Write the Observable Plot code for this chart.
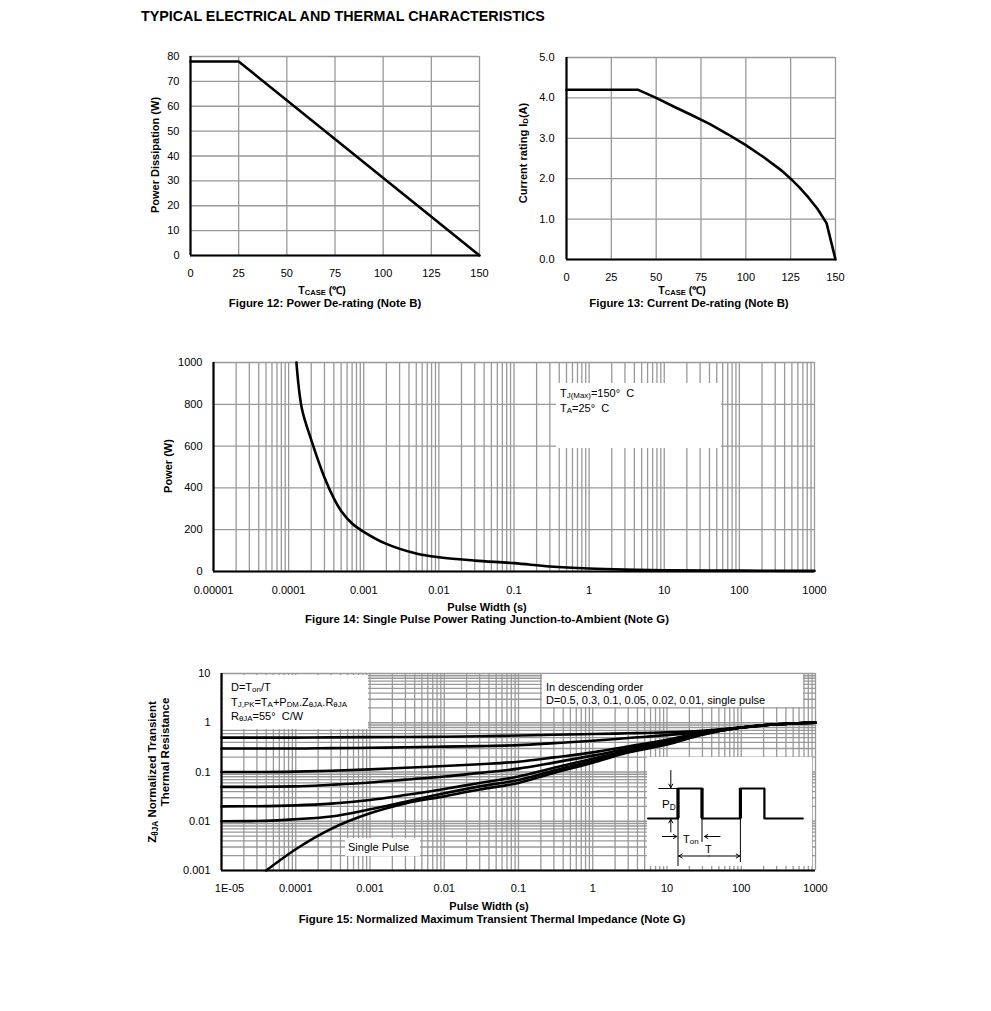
<!DOCTYPE html>
<html><head><meta charset="utf-8">
<script src="https://cdn.jsdelivr.net/npm/d3@7"></script>
<script src="https://cdn.jsdelivr.net/npm/@observablehq/plot@0.6"></script>
<style>
body{margin:0;background:#fff;}
#page{position:relative;width:991px;height:1011px;font-family:Arial,"Liberation Sans",sans-serif;color:#000;overflow:hidden;}
.abs{position:absolute;white-space:nowrap;line-height:1;}
.c{transform:translate(-50%,-50%);}
.l{transform:translate(0,-50%);}
.rot{transform:translate(-50%,-50%) rotate(-90deg);}
.b{font-weight:bold;}
sub{font-size:0.72em;vertical-align:-0.22em;line-height:0;}
.box{position:absolute;background:#fff;}
svg{display:block;}
</style></head><body><div id="page"></div>
<script>
// ---------- Figure 12 data ----------
const caseTemp12 = [0, 25, 150];
const power12 = [78, 78, 0];
const tempTicks = [0, 25, 50, 75, 100, 125, 150];
const powerTicks12 = [0, 10, 20, 30, 40, 50, 60, 70, 80];

// ---------- Figure 13 data ----------
const caseTemp13 = [0, 40, 50, 60, 70, 80, 90, 100, 110, 120, 125, 130, 135, 140, 145, 150];
const current13 = [4.2, 4.2, 4.0, 3.78, 3.57, 3.35, 3.1, 2.83, 2.53, 2.2, 2.0, 1.78, 1.53, 1.25, 0.9, 0];
const currentTicks13 = [0, 1, 2, 3, 4, 5];

// ---------- Figure 14 data ----------
const pulseWidth14 = [1.27e-4, 1.5e-4, 2e-4, 3e-4, 4e-4, 5e-4, 7e-4, 1e-3, 2e-3, 5e-3, 1e-2, 3e-2, 0.1, 0.3, 1, 3, 10, 100, 1000];
const power14 = [1000, 780, 630, 450, 350, 290, 230, 190, 132, 86, 68, 52, 40, 24, 14, 9, 6, 4, 3];
const pulseTicks14 = [1e-5, 1e-4, 1e-3, 1e-2, 0.1, 1, 10, 100, 1000];
const pulseLabels14 = ["0.00001", "0.0001", "0.001", "0.01", "0.1", "1", "10", "100", "1000"];
const powerTicks14 = [0, 200, 400, 600, 800, 1000];

// ---------- Figure 15 data ----------
const pulseWidth15 = [1e-5, 3e-5, 1e-4, 3e-4, 1e-3, 3e-3, 1e-2, 3e-2, 0.1, 0.3, 1, 3, 10, 30, 100, 300, 1000];
const z_D05  = [0.5, 0.5, 0.5, 0.505, 0.51, 0.515, 0.52, 0.533, 0.55, 0.57, 0.59, 0.61, 0.64, 0.69, 0.8, 0.93, 1.0];
const z_D03  = [0.3, 0.3, 0.3, 0.305, 0.31, 0.318, 0.327, 0.336, 0.352, 0.385, 0.43, 0.49, 0.56, 0.66, 0.8, 0.93, 1.0];
const z_D01  = [0.1, 0.1, 0.102, 0.106, 0.113, 0.122, 0.132, 0.144, 0.162, 0.198, 0.25, 0.33, 0.45, 0.63, 0.8, 0.93, 1.0];
const z_D005 = [0.05, 0.05, 0.051, 0.055, 0.061, 0.07, 0.081, 0.096, 0.117, 0.155, 0.215, 0.3, 0.42, 0.6, 0.8, 0.93, 1.0];
const z_D002 = [0.02, 0.0202, 0.021, 0.0228, 0.027, 0.034, 0.045, 0.06, 0.081, 0.122, 0.185, 0.275, 0.4, 0.59, 0.8, 0.93, 1.0];
const z_D001 = [0.01, 0.0101, 0.011, 0.0125, 0.0175, 0.025, 0.037, 0.051, 0.069, 0.107, 0.168, 0.26, 0.38, 0.58, 0.8, 0.93, 1.0];
const pulseWidthSingle = [4e-5, 1e-4, 3e-4, 1e-3, 3e-3, 1e-2, 3e-2, 0.1, 0.3, 1, 3, 10, 30, 100, 300, 1000];
const z_single = [0.001, 0.0027, 0.007, 0.0145, 0.023, 0.032, 0.044, 0.06, 0.096, 0.155, 0.25, 0.36, 0.57, 0.8, 0.93, 1.0];
const dutySeries = ["0.5", "0.3", "0.1", "0.05", "0.02", "0.01"];
const pulseTicks15 = [1e-5, 1e-4, 1e-3, 1e-2, 0.1, 1, 10, 100, 1000];
const pulseLabels15 = ["1E-05", "0.0001", "0.001", "0.01", "0.1", "1", "10", "100", "1000"];
const zTicks15 = [0.001, 0.01, 0.1, 1, 10];
const zLabels15 = ["0.001", "0.01", "0.1", "1", "10"];

// ---------- Inset waveform (schematic units: Ton = 1, T = 2.6) ----------
const waveTime  = [-1.25, 0, 0, 1, 1, 2.6, 2.6, 3.6, 3.6, 5.2];
const waveLevel = [0, 0, 1, 1, 0, 0, 1, 1, 0, 0];
const risingEdges = [0, 2.6, 1];
const markerTime = [0, 1, 2.6];
const markerBottom = [-1.6, -0.8, -1.47];

// ---------- helpers ----------
const page = document.getElementById("page");
const FONT = "Arial, 'Liberation Sans', sans-serif";
const GRID = "#999999";
const baseStyle = {fontFamily: FONT, fontSize: "11px", color: "#000", background: "transparent", overflow: "visible"};
function addPlot(svg, left, top) {
  const d = document.createElement("div");
  d.style.cssText = `position:absolute;left:${left}px;top:${top}px;`;
  d.appendChild(svg);
  page.appendChild(d);
}
function addText(html, x, y, cls, size) {
  const d = document.createElement("div");
  d.className = "abs " + cls;
  d.style.left = x + "px"; d.style.top = y + "px"; d.style.fontSize = size + "px";
  d.innerHTML = html;
  page.appendChild(d);
}
function addBox(x0, y0, x1, y1) {
  const d = document.createElement("div");
  d.className = "box";
  d.style.cssText += `left:${x0}px;top:${y0}px;width:${x1 - x0}px;height:${y1 - y0}px;`;
  page.appendChild(d);
}
function logMinor(lo, hi) {
  const out = [];
  for (let n = lo; n < hi; n++) for (let k = 1; k <= 9; k++) out.push(k * Math.pow(10, n));
  out.push(Math.pow(10, hi));
  return out;
}
const zip = (xs, ys, key) => xs.map((x, i) => ({x, y: ys[i], s: key}));
const gridOpts = {stroke: GRID, strokeOpacity: 1, strokeWidth: 1.3};

// ---------- Figure 12 ----------
addPlot(Plot.plot({
  width: 359, height: 259, marginLeft: 50, marginRight: 20, marginTop: 10, marginBottom: 50,
  style: baseStyle,
  x: {type: "linear", domain: [0, 150], axis: null},
  y: {type: "linear", domain: [0, 80], axis: null},
  marks: [
    Plot.gridX(tempTicks, gridOpts),
    Plot.gridY(powerTicks12, gridOpts),
    Plot.line(zip(caseTemp12, power12, "p"), {x: "x", y: "y", stroke: "#000", strokeWidth: 2.6}),
    Plot.ruleX([0], {stroke: "#000", strokeWidth: 2.2}),
    Plot.ruleY([0], {stroke: "#000", strokeWidth: 2.2}),
    Plot.axisX(tempTicks, {tickSize: 0, tickPadding: 14, label: null}),
    Plot.axisY(powerTicks12, {tickSize: 0, tickPadding: 11, label: null})
  ]
}), 140, 46);

// ---------- Figure 13 ----------
addPlot(Plot.plot({
  width: 339, height: 262, marginLeft: 50, marginRight: 20, marginTop: 10, marginBottom: 50,
  style: baseStyle,
  x: {type: "linear", domain: [0, 150], axis: null},
  y: {type: "linear", domain: [0, 5], axis: null},
  marks: [
    Plot.gridX(tempTicks, gridOpts),
    Plot.gridY(currentTicks13, gridOpts),
    Plot.line(zip(caseTemp13, current13, "i"), {x: "x", y: "y", stroke: "#000", strokeWidth: 2.6}),
    Plot.ruleX([0], {stroke: "#000", strokeWidth: 2.2}),
    Plot.ruleY([0], {stroke: "#000", strokeWidth: 2.2}),
    Plot.axisX(tempTicks, {tickSize: 0, tickPadding: 14, label: null}),
    Plot.axisY(currentTicks13, {tickSize: 0, tickPadding: 12, label: null, tickFormat: d => d.toFixed(1)})
  ]
}), 516, 47);

// ---------- Figure 14 ----------
const lab14 = new Map(pulseTicks14.map((d, i) => [d, pulseLabels14[i]]));
addPlot(Plot.plot({
  width: 671, height: 259, marginLeft: 50, marginRight: 20, marginTop: 10, marginBottom: 40,
  style: baseStyle,
  x: {type: "log", domain: [1e-5, 1000], axis: null},
  y: {type: "linear", domain: [0, 1000], axis: null},
  marks: [
    Plot.gridX(logMinor(-5, 3), gridOpts),
    Plot.gridY(powerTicks14, gridOpts),
    Plot.line(zip(pulseWidth14, power14, "p"), {x: "x", y: "y", stroke: "#000", strokeWidth: 2.6, curve: "catmull-rom"}),
    Plot.ruleX([1e-5], {stroke: "#000", strokeWidth: 2.2}),
    Plot.ruleY([0], {stroke: "#000", strokeWidth: 2.2}),
    Plot.axisX(pulseTicks14, {tickSize: 0, tickPadding: 15, label: null, tickFormat: d => lab14.get(d)}),
    Plot.axisY(powerTicks14, {tickSize: 0, tickPadding: 11, label: null, tickFormat: d => String(d)})
  ]
}), 163, 352);

// ---------- Figure 15 ----------
const lab15x = new Map(pulseTicks15.map((d, i) => [d, pulseLabels15[i]]));
const lab15y = new Map(zTicks15.map((d, i) => [d, zLabels15[i]]));
const seriesZ = [z_D05, z_D03, z_D01, z_D005, z_D002, z_D001];
const rows15 = seriesZ.flatMap((zs, i) => zip(pulseWidth15, zs, dutySeries[i]))
  .concat(zip(pulseWidthSingle, z_single, "single"));
addPlot(Plot.plot({
  width: 664, height: 247, marginLeft: 50, marginRight: 20, marginTop: 10, marginBottom: 40,
  style: baseStyle,
  x: {type: "log", domain: [1e-5, 1000], axis: null},
  y: {type: "log", domain: [0.001, 10], axis: null},
  marks: [
    Plot.gridX(logMinor(-5, 3), gridOpts),
    Plot.gridY(logMinor(-3, 1), gridOpts),
    Plot.line(rows15, {x: "x", y: "y", z: "s", stroke: "#000", strokeWidth: 2.6, curve: "monotone-x"}),
    Plot.ruleX([1e-5], {stroke: "#000", strokeWidth: 2.2}),
    Plot.ruleY([0.001], {stroke: "#000", strokeWidth: 2.2}),
    Plot.axisX(pulseTicks15.slice(0, 1), {tickSize: 0, tickPadding: 14, dx: 8, label: null, tickFormat: d => lab15x.get(d)}),
    Plot.axisX(pulseTicks15.slice(1), {tickSize: 0, tickPadding: 14, label: null, tickFormat: d => lab15x.get(d)}),
    Plot.axisY(zTicks15, {tickSize: 0, tickPadding: 11, label: null, tickFormat: d => lab15y.get(d)})
  ]
}), 171, 663);

// ---------- Inset pulse diagram ----------
const waveRows = waveTime.map((u, i) => ({u, v: waveLevel[i]}));
const markerRows = markerTime.map((u, i) => ({u, v2: markerBottom[i]}));
const arrowRows = [
  {x1: -0.3, y1: 1.6, x2: -0.3, y2: 1.03},
  {x1: -0.3, y1: -0.45, x2: -0.3, y2: -0.03},
  {x1: -0.65, y1: -0.6, x2: -0.05, y2: -0.6},
  {x1: 1.75, y1: -0.6, x2: 1.1, y2: -0.6},
  {x1: 1.3, y1: -1.25, x2: 0.03, y2: -1.25},
  {x1: 1.3, y1: -1.25, x2: 2.57, y2: -1.25}
];
addPlot(Plot.plot({
  width: 165, height: 109, margin: 0,
  style: {...baseStyle, background: "#fff"},
  x: {domain: [-1.271, 5.604], axis: null},
  y: {domain: [-1.6, 2.033], axis: null},
  marks: [
    Plot.ruleY([1], {x1: -0.8, x2: 0, stroke: "#000", strokeWidth: 1}),
    Plot.ruleX(markerRows, {x: "u", y1: 0, y2: "v2", stroke: "#000", strokeWidth: 1}),
    Plot.line(waveRows, {x: "u", y: "v", stroke: "#000", strokeWidth: 2.2}),
    Plot.ruleX(risingEdges, {y1: 0, y2: 1, stroke: "#000", strokeWidth: 3.2}),
    Plot.arrow(arrowRows, {x1: "x1", y1: "y1", x2: "x2", y2: "y2", stroke: "#000", strokeWidth: 1, headLength: 6})
  ]
}), 647, 757);

// ---------- Text ----------
addText("TYPICAL ELECTRICAL AND THERMAL CHARACTERISTICS", 141, 16, "l b", 14.3);
// Fig 12
addText("Power Dissipation (W)", 155, 155, "rot b", 11);
addText("T<sub>CASE</sub> (&#8451;)", 322, 290, "c b", 10.5);
addText("Figure 12: Power De-rating (Note B)", 325, 304, "c b", 11.4);
// Fig 13
addText("Current rating I<sub>D</sub>(A)", 523, 153, "rot b", 11);
addText("T<sub>CASE</sub> (&#8451;)", 682, 290, "c b", 10.5);
addText("Figure 13: Current De-rating (Note B)", 689, 304, "c b", 11.4);
// Fig 14
addText("Power (W)", 168, 466, "rot b", 11);
addText("Pulse Width (s)", 487, 607, "c b", 11);
addText("Figure 14: Single Pulse Power Rating Junction-to-Ambient (Note G)", 487, 620, "c b", 11.4);
addBox(556, 383, 721, 448);
addText("T<sub>J(Max)</sub>=150&deg;&nbsp; C", 560, 393, "l", 11);
addText("T<sub>A</sub>=25&deg;&nbsp; C", 560, 408, "l", 11);
// Fig 15
addText("Z<sub>&theta;JA</sub> Normalized Transient", 153, 772, "rot b", 11.5);
addText("Thermal Resistance", 166, 752, "rot b", 11.5);
addText("Pulse Width (s)", 489, 906, "c b", 11);
addText("Figure 15: Normalized Maximum Transient Thermal Impedance (Note G)", 492, 920, "c b", 11.4);
addBox(223, 675, 368, 729);
addText("D=T<sub>on</sub>/T", 231, 687, "l", 11);
addText("T<sub>J,PK</sub>=T<sub>A</sub>+P<sub>DM</sub>.Z<sub>&theta;JA</sub>.R<sub>&theta;JA</sub>", 231, 702, "l", 11);
addText("R<sub>&theta;JA</sub>=55&deg;&nbsp; C/W", 231, 716, "l", 11);
addBox(542, 674, 803, 707);
addText("In descending order", 546, 687, "l", 11);
addText("D=0.5, 0.3, 0.1, 0.05, 0.02, 0.01, single pulse", 546, 700, "l", 11);
addBox(345, 838, 420, 856);
addText("Single Pulse", 348, 847, "l", 11);
addText("P<sub>D</sub>", 662, 805, "l", 11.5);
addText("T<sub>on</sub>", 683, 839, "l", 11);
addText("T", 705, 849, "l", 11);
</script></body></html>
